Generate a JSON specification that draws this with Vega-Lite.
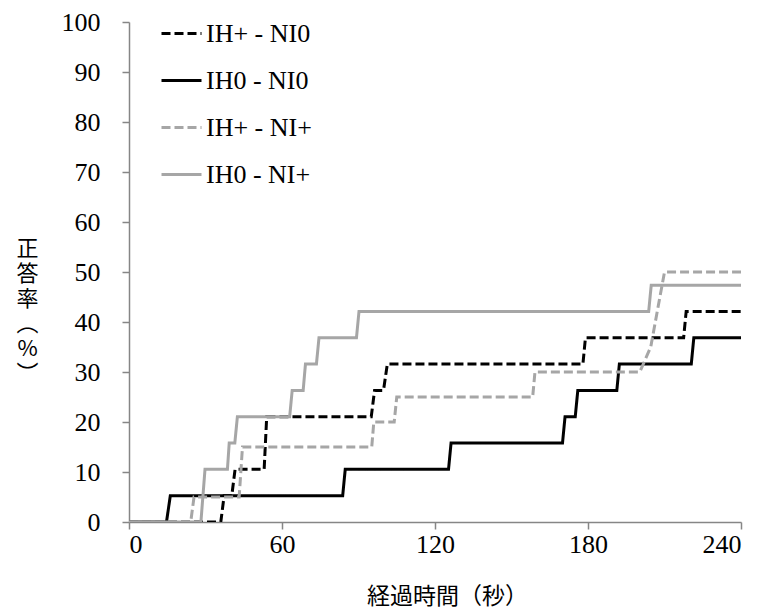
{
  "$schema": "https://vega.github.io/schema/vega-lite/v6.json",
  "width": 612,
  "height": 500,
  "autosize": "none",
  "padding": {"left": 129, "top": 22, "right": 24, "bottom": 93},
  "background": "white",
  "config": {
    "view": {"stroke": null},
    "axis": {
      "domainColor": "#868686",
      "domainWidth": 1.5,
      "tickColor": "#868686",
      "tickWidth": 1.5,
      "tickSize": 7,
      "grid": false,
      "labelFont": "Liberation Serif, Times New Roman, serif",
      "labelFontSize": 26,
      "labelColor": "#000000",
      "titleFont": "Noto Sans CJK JP",
      "titleFontSize": 23,
      "titleFontWeight": "normal",
      "titleColor": "#000000"
    },
    "legend": {
      "orient": "none",
      "legendX": 31,
      "legendY": -10,
      "padding": 0,
      "title": null,
      "symbolType": "stroke",
      "symbolSize": 1600,
      "symbolStrokeWidth": 3,
      "rowPadding": 12,
      "labelOffset": 3,
      "labelFont": "Liberation Serif, Times New Roman, serif",
      "labelFontSize": 26,
      "labelColor": "#000000"
    }
  },
  "data": {
    "values": [
      {"series": "IH+ - NI0", "i": 0, "t": 0, "rate": 0},
      {"series": "IH+ - NI0", "i": 1, "t": 36, "rate": 0},
      {"series": "IH+ - NI0", "i": 2, "t": 37.3, "rate": 5.26},
      {"series": "IH+ - NI0", "i": 3, "t": 40.3, "rate": 5.26},
      {"series": "IH+ - NI0", "i": 4, "t": 41.6, "rate": 10.53},
      {"series": "IH+ - NI0", "i": 5, "t": 53, "rate": 10.53},
      {"series": "IH+ - NI0", "i": 6, "t": 54, "rate": 21.05},
      {"series": "IH+ - NI0", "i": 7, "t": 95, "rate": 21.05},
      {"series": "IH+ - NI0", "i": 8, "t": 96.3, "rate": 26.32},
      {"series": "IH+ - NI0", "i": 9, "t": 99.8, "rate": 26.32},
      {"series": "IH+ - NI0", "i": 10, "t": 101.3, "rate": 31.58},
      {"series": "IH+ - NI0", "i": 11, "t": 178, "rate": 31.58},
      {"series": "IH+ - NI0", "i": 12, "t": 179, "rate": 36.84},
      {"series": "IH+ - NI0", "i": 13, "t": 217.5, "rate": 36.84},
      {"series": "IH+ - NI0", "i": 14, "t": 218.5, "rate": 42.11},
      {"series": "IH+ - NI0", "i": 15, "t": 240, "rate": 42.11},

      {"series": "IH0 - NI0", "i": 0, "t": 0, "rate": 0},
      {"series": "IH0 - NI0", "i": 1, "t": 14.7, "rate": 0},
      {"series": "IH0 - NI0", "i": 2, "t": 16.2, "rate": 5.26},
      {"series": "IH0 - NI0", "i": 3, "t": 83.8, "rate": 5.26},
      {"series": "IH0 - NI0", "i": 4, "t": 84.8, "rate": 10.53},
      {"series": "IH0 - NI0", "i": 5, "t": 125.3, "rate": 10.53},
      {"series": "IH0 - NI0", "i": 6, "t": 126.3, "rate": 15.79},
      {"series": "IH0 - NI0", "i": 7, "t": 170, "rate": 15.79},
      {"series": "IH0 - NI0", "i": 8, "t": 171, "rate": 21.05},
      {"series": "IH0 - NI0", "i": 9, "t": 175, "rate": 21.05},
      {"series": "IH0 - NI0", "i": 10, "t": 176, "rate": 26.32},
      {"series": "IH0 - NI0", "i": 11, "t": 191.3, "rate": 26.32},
      {"series": "IH0 - NI0", "i": 12, "t": 192.3, "rate": 31.58},
      {"series": "IH0 - NI0", "i": 13, "t": 220.5, "rate": 31.58},
      {"series": "IH0 - NI0", "i": 14, "t": 221.5, "rate": 36.84},
      {"series": "IH0 - NI0", "i": 15, "t": 240, "rate": 36.84},

      {"series": "IH+ - NI+", "i": 0, "t": 0, "rate": 0},
      {"series": "IH+ - NI+", "i": 1, "t": 24.2, "rate": 0},
      {"series": "IH+ - NI+", "i": 2, "t": 25.5, "rate": 5},
      {"series": "IH+ - NI+", "i": 3, "t": 43.2, "rate": 5},
      {"series": "IH+ - NI+", "i": 4, "t": 44.5, "rate": 15},
      {"series": "IH+ - NI+", "i": 5, "t": 95.2, "rate": 15},
      {"series": "IH+ - NI+", "i": 6, "t": 96, "rate": 20},
      {"series": "IH+ - NI+", "i": 7, "t": 104, "rate": 20},
      {"series": "IH+ - NI+", "i": 8, "t": 105, "rate": 25},
      {"series": "IH+ - NI+", "i": 9, "t": 158.3, "rate": 25},
      {"series": "IH+ - NI+", "i": 10, "t": 159.2, "rate": 30},
      {"series": "IH+ - NI+", "i": 11, "t": 200.3, "rate": 30},
      {"series": "IH+ - NI+", "i": 12, "t": 204.6, "rate": 35},
      {"series": "IH+ - NI+", "i": 13, "t": 210, "rate": 50},
      {"series": "IH+ - NI+", "i": 14, "t": 240, "rate": 50},

      {"series": "IH0 - NI+", "i": 0, "t": 0, "rate": 0},
      {"series": "IH0 - NI+", "i": 1, "t": 28.2, "rate": 0},
      {"series": "IH0 - NI+", "i": 2, "t": 29.8, "rate": 10.53},
      {"series": "IH0 - NI+", "i": 3, "t": 38.6, "rate": 10.53},
      {"series": "IH0 - NI+", "i": 4, "t": 39.3, "rate": 15.79},
      {"series": "IH0 - NI+", "i": 5, "t": 41.5, "rate": 15.79},
      {"series": "IH0 - NI+", "i": 6, "t": 42.5, "rate": 21.05},
      {"series": "IH0 - NI+", "i": 7, "t": 63, "rate": 21.05},
      {"series": "IH0 - NI+", "i": 8, "t": 64, "rate": 26.32},
      {"series": "IH0 - NI+", "i": 9, "t": 68.3, "rate": 26.32},
      {"series": "IH0 - NI+", "i": 10, "t": 69.2, "rate": 31.58},
      {"series": "IH0 - NI+", "i": 11, "t": 73.5, "rate": 31.58},
      {"series": "IH0 - NI+", "i": 12, "t": 74.5, "rate": 36.84},
      {"series": "IH0 - NI+", "i": 13, "t": 89.2, "rate": 36.84},
      {"series": "IH0 - NI+", "i": 14, "t": 90.2, "rate": 42.11},
      {"series": "IH0 - NI+", "i": 15, "t": 203.8, "rate": 42.11},
      {"series": "IH0 - NI+", "i": 16, "t": 204.8, "rate": 47.37},
      {"series": "IH0 - NI+", "i": 17, "t": 240, "rate": 47.37}
    ]
  },
  "mark": {"type": "line", "strokeWidth": 3, "strokeCap": "butt", "strokeJoin": "miter", "clip": true},
  "encoding": {
    "x": {
      "field": "t",
      "type": "quantitative",
      "scale": {"domain": [0, 240], "nice": false, "zero": true},
      "axis": {
        "values": [0, 60, 120, 180, 240],
        "title": "経過時間（秒）",
        "labelPadding": 2,
        "titlePadding": 28,
        "titleX": 318,
        "titleAlign": "center"
      }
    },
    "y": {
      "field": "rate",
      "type": "quantitative",
      "scale": {"domain": [0, 100], "nice": false},
      "axis": {
        "values": [0, 10, 20, 30, 40, 50, 60, 70, 80, 90, 100],
        "labelPadding": 22,
        "title": ["正", "答", "率", "︵", "%", "︶"],
        "titleFontSize": 22,
        "titleAngle": 0,
        "titleAlign": "center",
        "titleBaseline": "top",
        "titleLineHeight": 25,
        "titleX": -102,
        "titleY": 216
      }
    },
    "color": {
      "field": "series",
      "type": "nominal",
      "scale": {
        "domain": ["IH+ - NI0", "IH0 - NI0", "IH+ - NI+", "IH0 - NI+"],
        "range": ["#000000", "#000000", "#A6A6A6", "#A6A6A6"]
      },
      "legend": {"title": null}
    },
    "strokeDash": {
      "field": "series",
      "type": "nominal",
      "scale": {
        "domain": ["IH+ - NI0", "IH0 - NI0", "IH+ - NI+", "IH0 - NI+"],
        "range": [[9, 4], [1, 0], [9, 4], [1, 0]]
      },
      "legend": {"title": null}
    },
    "order": {"field": "i", "type": "quantitative"}
  }
}
